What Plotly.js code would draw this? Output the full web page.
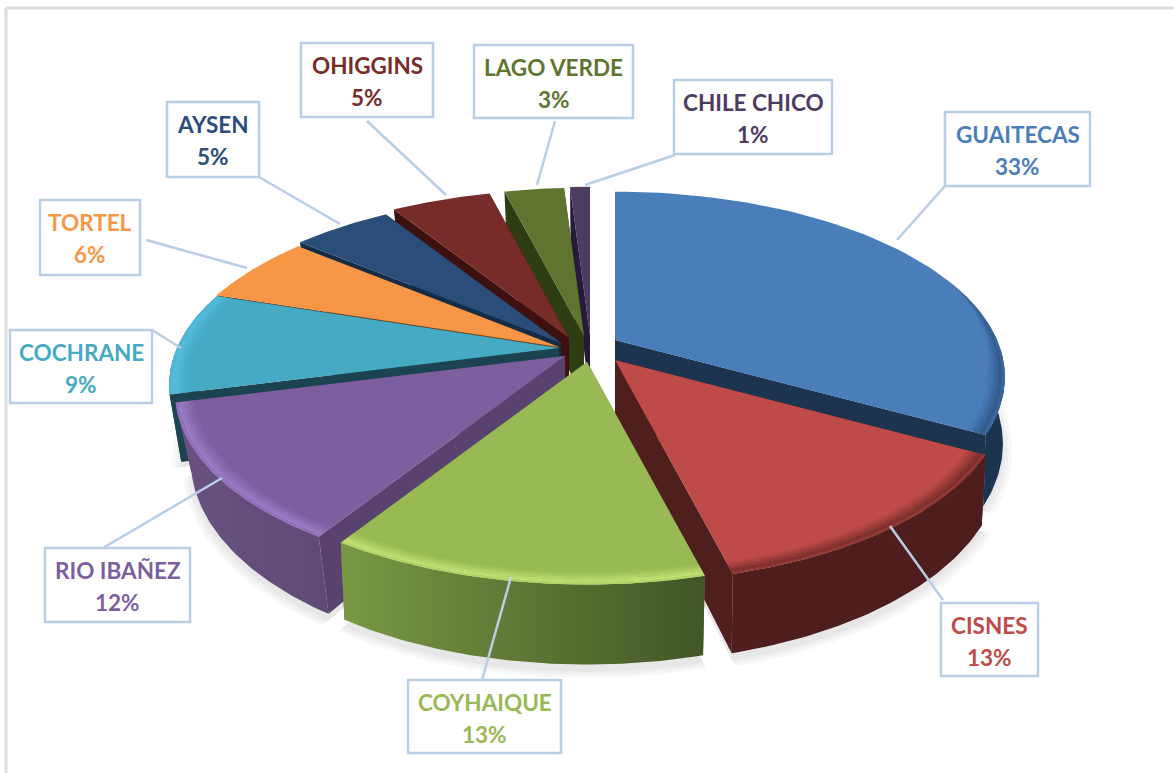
<!DOCTYPE html>
<html><head><meta charset="utf-8">
<script src="https://cdn.plot.ly/plotly-3.0.1.min.js"></script>
<style>html,body{margin:0;padding:0;background:#fff;overflow:hidden}</style></head>
<body><div id="chart" style="width:1174px;height:773px"></div>
<script>
// ---- data ----
const categories = ['GUAITECAS','CISNES','COYHAIQUE','RIO IBAÑEZ','COCHRANE','TORTEL','AYSEN','OHIGGINS','LAGO VERDE','CHILE CHICO'];
const values = [33,13,13,12,9,6,5,5,3,1];

// ---- styles ----
const topColors  = ['#4a7ebb','#be4b48','#98b954','#7d5fa0','#46aac5','#f79646','#2a4d79','#772c2a','#5f752f','#4d3b62'];
const wallLeft   = ['#1d3450','#4d1e1d','#7a9844','#69527f','#1c4450','#6f4420','#152c47','#3d1110','#2f3d15','#261a3a'];
const wallRight  = ['#1d3450','#4d1e1d','#425526','#5f4976','#1c4450','#6f4420','#152c47','#3d1110','#2f3d15','#261a3a'];
const sideColors = ['#1d3450','#4f1f1e','#5e7a30','#5a4270','#1c4450','#6f4420','#152c47','#3d1110','#2f3d15','#261a3a'];
const rimColors  = ['#33598c','#7a2f2c','#c4e074','#9a7cc6','#54bcdc','#f79646','#2a4d79','#772c2a','#5f752f','#4d3b62'];

// ---- layout constants (pixels of the drawing) ----
const apexX = [615,615,587,565,559,559,561,569,584,590];
const apexY = [340,360,362,356,348,347,343,338,336,335];
const narrow = [0.005,0.01,0.015,0.04,0.03,0.03,0.03,0.03,0.03,0.03];
const boxes = [[945,112,1090,186],[941,603,1038,676],[408,680,561,753],[45,548,190,622],[10,330,152,403],
               [40,200,140,275],[167,102,259,177],[301,43,433,117],[474,45,633,118],[674,80,832,154]];
const leaders = [[945,186,897,240],[890,526,943,600],[511,577,482,680],[222,478,103,548],[152,330,181,348],
                 [146,240,247,268],[259,177,340,224],[367,121,446,195],[555,121,537,185],[675,155,585,185]];
const R = 382, F = 0.466, K = 0.2, D = 64, STEPS = 60;
const RIM_FROM = 70, RIM_TO = 290, RIM_FADE = 30;
const drawOrder = [9,8,7,6,5,0,4,3,1,2];
const leaderColor = '#b9cde5';

function proj(i, deg, r, z) {
  const t = deg * Math.PI / 180, u = r * Math.sin(t), v = -r * Math.cos(t), p = 1 / (1 - K * v);
  return [apexX[i] + R * u * p * (1 - narrow[i] * z / D), apexY[i] + R * F * v * p + z * p];
}
function arc(i, a0, a1, r, z) {
  const pts = [];
  for (let s = 0; s <= STEPS; s++) pts.push(proj(i, a0 + (a1 - a0) * s / STEPS, r, z));
  return pts;
}
// rim arc whose width tapers to nothing where the bevel begins
function rimArc(i, a0, a1, r) {
  const pts = [];
  for (let s = 0; s <= STEPS; s++) {
    const a = a0 + (a1 - a0) * s / STEPS;
    const fade = Math.min(1, Math.max(0, (a - RIM_FROM) / RIM_FADE));
    pts.push(proj(i, a, 1 - (1 - r) * fade, 0));
  }
  return pts;
}
function poly(pts, extra) {
  return Object.assign({x: pts.map(p => p[0]), y: pts.map(p => p[1]), type: 'scatter', mode: 'lines',
    fill: 'toself', line: {width: 0}, hoverinfo: 'skip', showlegend: false}, extra);
}
function lerp(a, b, t) {
  const h = c => [1,3,5].map(n => parseInt(c.substr(n,2),16));
  const A = h(a), B = h(b);
  return 'rgb(' + A.map((x,n) => Math.round(x + (B[n]-x)*t)).join(',') + ')';
}

// slice start/end angles from the values
const total = values.reduce((a,b) => a+b, 0);
const starts = [], ends = [];
values.reduce((acc,v,i) => { starts[i] = acc/total*360; ends[i] = (acc+v)/total*360; return acc+v; }, 0);

const traces = [];
// soft ground shadow
[1.024,1.014,1.004].forEach(g => {
  drawOrder.forEach(i => {
    const a = arc(i, starts[i], ends[i], g, D + 5);
    a.unshift([apexX[i], apexY[i] + D + 5]);
    traces.push(poly(a, {fillcolor: 'rgba(0,0,0,0.03)'}));
  });
});
drawOrder.forEach(i => {
  const a0 = starts[i], a1 = ends[i];
  const ax = apexX[i], ay = apexY[i];
  // two cut faces
  [a0, a1].forEach(a => {
    const e0 = proj(i, a, 1, 0), e1 = proj(i, a, 1, D);
    traces.push(poly([[ax, ay], e0, e1, [ax, ay + D]], {fillcolor: sideColors[i]}));
  });
  // outer wall, only where it faces the viewer
  const w0 = Math.max(a0, 75), w1 = Math.min(a1, 285);
  if (w1 > w0) {
    const upper = arc(i, w0, w1, 1, 0), lower = arc(i, w0, w1, 1, D).reverse();
    traces.push(poly(upper.concat(lower), {fillcolor: wallRight[i],
      fillgradient: {type: 'horizontal', colorscale: [[0, wallLeft[i]], [1, wallRight[i]]]}}));
  }
  // top face
  const top = arc(i, a0, a1, 1, 0);
  top.unshift([ax, ay]);
  traces.push(poly(top, {fillcolor: topColors[i]}));
  // rim bevel, soft and only on the near part of the circle
  const r0 = Math.max(a0, RIM_FROM), r1 = Math.min(a1, RIM_TO);
  if (r1 > r0) {
    const bands = [[0.955,0.963,0.15],[0.963,0.971,0.35],[0.971,0.979,0.6],[0.979,0.986,0.85],[0.986,0.993,1],[0.993,1.0,0.7]];
    bands.forEach(b => {
      const col = lerp(topColors[i], rimColors[i], b[2]);
      traces.push(poly(rimArc(i, r0, r1, b[1]).concat(rimArc(i, r0, r1, b[0]).reverse()), {fillcolor: col}));
    });
  }
});

const shapes = [
  {type:'line', x0:6, y0:8, x1:1174, y1:8, line:{color:'#dcdcdc', width:3}},
  {type:'line', x0:6, y0:8, x1:6, y1:773, line:{color:'#dcdcdc', width:3}}
];
leaders.forEach(l => shapes.push({type:'line', x0:l[0], y0:l[1], x1:l[2], y1:l[3], line:{color:leaderColor, width:2.5}}));
boxes.forEach(b => shapes.push({type:'rect', x0:b[0], y0:b[1], x1:b[2], y1:b[3], fillcolor:'#fff', line:{color:leaderColor, width:2.5}}));

const annotations = [];
categories.forEach((c, i) => {
  const b = boxes[i], mx = (b[0]+b[2])/2, font = {family:'Lato, sans-serif', size:22.5, color:topColors[i]};
  annotations.push({x:mx, y:b[1]+22, xref:'x', yref:'y', text:'<b>'+c+'</b>', showarrow:false, font:font});
  annotations.push({x:mx, y:b[1]+54, xref:'x', yref:'y', text:'<b>'+values[i]+'%</b>', showarrow:false, font:font});
});

Plotly.newPlot('chart', traces, {
  width:1174, height:773, margin:{l:0,r:0,t:0,b:0}, showlegend:false,
  paper_bgcolor:'#fff', plot_bgcolor:'#fff',
  xaxis:{range:[0,1174], visible:false, fixedrange:true},
  yaxis:{range:[773,0], visible:false, fixedrange:true},
  shapes:shapes, annotations:annotations
}, {displayModeBar:false, staticPlot:true});
</script></body></html>
